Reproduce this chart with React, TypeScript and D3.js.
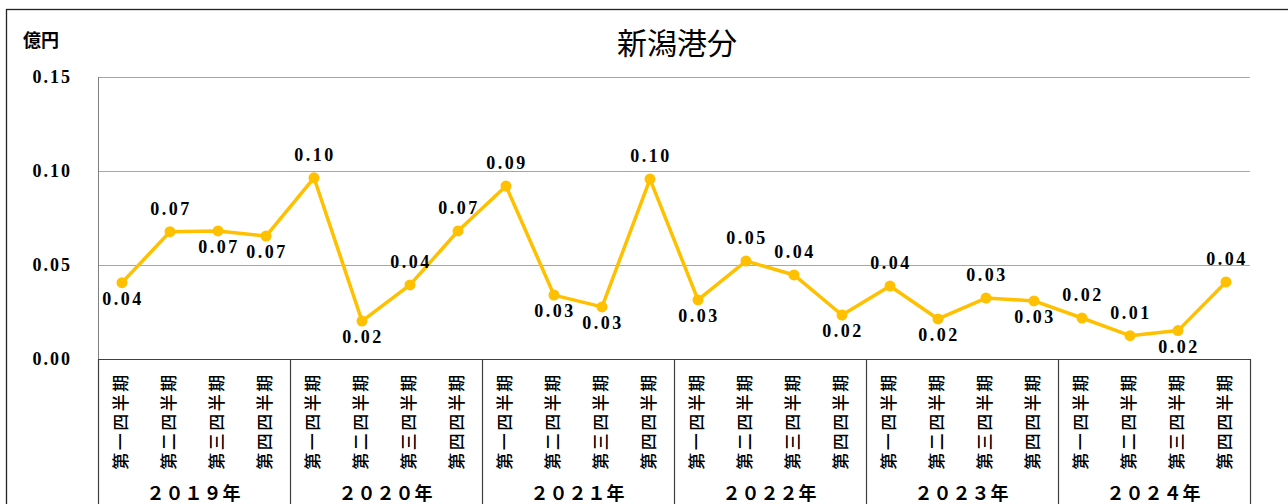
import * as d3 from 'd3';
import { useEffect, useRef } from 'react';

const years = ['２０１９年', '２０２０年', '２０２１年', '２０２２年', '２０２３年', '２０２４年'];
const quarters = ['第一四半期', '第二四半期', '第三四半期', '第四四半期'];
const values = [
  0.0406, 0.0677, 0.0681, 0.0654,
  0.0964, 0.0202, 0.0394, 0.0681,
  0.092, 0.034, 0.0277, 0.0957,
  0.0314, 0.0521, 0.0447, 0.0234,
  0.0388, 0.0213, 0.0324, 0.0309,
  0.0218, 0.0124, 0.0151, 0.041,
];
// where Excel put each data label
const labelSide = [
  'below', 'above', 'below', 'below',
  'above', 'below', 'above', 'above',
  'above', 'below', 'below', 'above',
  'below', 'above', 'above', 'below',
  'above', 'below', 'above', 'below',
  'above', 'above', 'below', 'above',
];
const yTicks = [0, 0.05, 0.1, 0.15];

const App = () => {
  const svgRef = useRef(null);
  const width = 1288, height = 504;
  const plot = { left: 98, right: 1250, top: 77, bottom: 359 };
  const numFont = '"Liberation Serif", "DejaVu Serif", serif';
  const cjkFont = '"Noto Sans CJK JP", "Noto Sans", sans-serif';

  useEffect(() => {
    const svg = d3.select(svgRef.current);
    svg.selectAll('*').remove();

    const cats = d3.range(values.length);
    const x = d3.scaleBand().domain(cats.map(String)).range([plot.left, plot.right]);
    const y = d3.scaleLinear().domain([0, 0.15]).range([plot.bottom, plot.top]);
    const cx = i => x(String(i)) + x.bandwidth() / 2;
    const fmt = d3.format('.2f');

    // chart frame
    svg.append('rect').attr('x', 6.5).attr('y', 9.5).attr('width', 1400).attr('height', 700)
      .attr('fill', '#fff').attr('stroke', '#222').attr('stroke-width', 1.3);

    // title + unit
    svg.append('text').attr('x', 677).attr('y', 54).attr('text-anchor', 'middle')
      .style('font-family', cjkFont).style('font-size', '30px').attr('fill', '#000').text('新潟港分');
    svg.append('text').attr('x', 23).attr('y', 47)
      .style('font-family', cjkFont).style('font-size', '18px').style('font-weight', 'bold').attr('fill', '#000').text('億円');

    // gridlines
    svg.append('g').selectAll('line').data(yTicks.filter(t => t > 0)).join('line')
      .attr('x1', plot.left).attr('x2', plot.right)
      .attr('y1', d => Math.round(y(d)) + 0.5).attr('y2', d => Math.round(y(d)) + 0.5)
      .attr('stroke', '#a6a6a6').attr('stroke-width', 1);

    // y tick labels
    svg.append('g').selectAll('text').data(yTicks).join('text')
      .attr('x', 72).attr('y', d => y(d)).attr('dy', '0.35em').attr('text-anchor', 'end')
      .style('font-family', numFont).style('font-size', '18px').style('font-weight', 'bold')
      .style('letter-spacing', '2px').attr('fill', '#000').text(fmt);

    // value axis line
    svg.append('line').attr('x1', plot.left + 0.5).attr('x2', plot.left + 0.5)
      .attr('y1', plot.top).attr('y2', plot.bottom).attr('stroke', '#7f7f7f');

    // category axis
    svg.append('line').attr('x1', plot.left).attr('x2', plot.right + 1)
      .attr('y1', plot.bottom + 0.5).attr('y2', plot.bottom + 0.5).attr('stroke', '#404040').attr('stroke-width', 1.2);
    const bounds = d3.range(years.length + 1).map(g => g * quarters.length);
    svg.append('g').selectAll('line').data(bounds).join('line')
      .attr('x1', d => Math.round(d === values.length ? plot.right : x(String(d))) + 0.5)
      .attr('x2', d => Math.round(d === values.length ? plot.right : x(String(d))) + 0.5)
      .attr('y1', plot.bottom).attr('y2', height)
      .attr('stroke', '#404040').attr('stroke-width', 1.2);

    // quarter labels (rotated)
    svg.append('g').selectAll('text').data(cats).join('text')
      .attr('transform', i => `translate(${cx(i) + 5},421) rotate(-90)`)
      .attr('text-anchor', 'middle')
      .style('font-family', cjkFont).style('font-size', '17px').style('font-weight', '500')
      .style('letter-spacing', '2.5px')
      .attr('fill', '#000').text(i => quarters[i % quarters.length]);

    // year labels
    svg.append('g').selectAll('text').data(years).join('text')
      .attr('x', (d, g) => (x(String(g * 4)) + x(String(g * 4 + 3)) + x.bandwidth()) / 2)
      .attr('y', 500).attr('text-anchor', 'middle')
      .style('font-family', cjkFont).style('font-size', '18px').style('font-weight', 'bold')
      .style('letter-spacing', '1px').attr('fill', '#000').text(d => d);

    // series line
    const line = d3.line().x((d, i) => cx(i)).y(d => y(d));
    svg.append('path').datum(values).attr('d', line)
      .attr('fill', 'none').attr('stroke', '#ffc000').attr('stroke-width', 3.5).attr('stroke-linejoin', 'round');
    svg.append('g').selectAll('circle').data(values).join('circle')
      .attr('cx', (d, i) => cx(i)).attr('cy', d => y(d)).attr('r', 5.5).attr('fill', '#ffc000');

    // data labels
    svg.append('g').selectAll('text').data(values).join('text')
      .attr('x', (d, i) => cx(i) + 1)
      .attr('y', (d, i) => y(d) + (labelSide[i] === 'above' ? -23 : 16))
      .attr('dy', '0.35em').attr('text-anchor', 'middle')
      .style('font-family', numFont).style('font-size', '18px').style('font-weight', 'bold')
      .style('letter-spacing', '2.5px').attr('fill', '#000').text(fmt);
  }, []);

  return <svg ref={svgRef} width={width} height={height} style={{ position: 'absolute', left: 0, top: 0, background: '#fff' }}></svg>;
};

export default App;
